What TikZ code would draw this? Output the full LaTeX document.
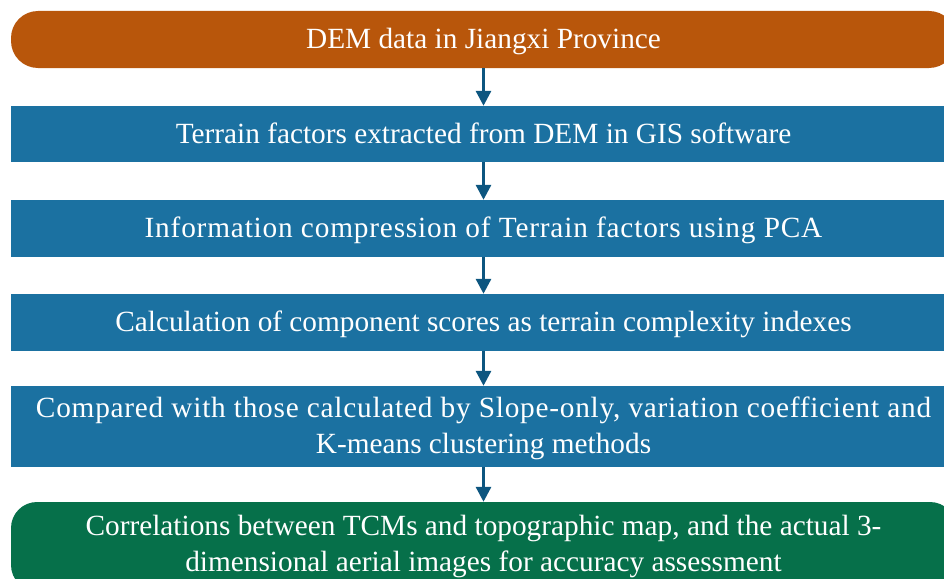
\documentclass[tikz,border=0pt]{standalone}
\usepackage{fontspec}
\setmainfont{Liberation Serif}
\usetikzlibrary{arrows.meta}
\definecolor{orangebox}{HTML}{B8560B}
\definecolor{bluebox}{HTML}{1B71A1}
\definecolor{greenbox}{HTML}{06704A}
\definecolor{arrowblue}{HTML}{0D5680}
\begin{document}
\begin{tikzpicture}[x=1pt,y=-1pt,
  box/.style={fill=bluebox, text=white, minimum width=945pt, inner sep=0pt,
    font=\fontsize{29.3}{36.7}\selectfont, align=center},
  oneline/.style={text height=20pt, text depth=1.4pt},
  arr/.style={draw=arrowblue, line width=3pt, -{Triangle[width=15pt,length=15pt]}, fill=arrowblue}]
\useasboundingbox (0,0) rectangle (944,578);
\clip (0,0) rectangle (944,578);
\node[box, oneline, fill=orangebox, rounded corners=27pt, minimum height=57pt] (n0) at (483.5,39.5) {DEM data in Jiangxi Province};
\node[box, oneline, minimum height=56pt] (n1) at (483.5,134) {Terrain factors extracted from DEM in GIS software};
\node[box, oneline, minimum height=57pt] (n2) at (483.5,228.5) {{\addfontfeatures{LetterSpace=2.8}Information compression of Terrain factors using PCA}};
\node[box, oneline, minimum height=57pt] (n3) at (483.5,322.5) {Calculation of component scores as terrain complexity indexes};
\node[box, minimum height=81pt, text height=61pt, text depth=6.4pt] (n4) at (483.5,426.5) {{\addfontfeatures{LetterSpace=2.6}Compared with those calculated by Slope-only, variation coefficient and}\\K-means clustering methods};
\node[box, fill=greenbox, rounded corners=26pt, minimum height=89pt] (n5) at (483.5,546.5) {Correlations between TCMs and topographic map, and the actual 3-\\dimensional aerial images for accuracy assessment};
\draw[arr] (n0) -- (n1);
\draw[arr] (n1) -- (n2);
\draw[arr] (n2) -- (n3);
\draw[arr] (n3) -- (n4);
\draw[arr] (n4) -- (n5);
\end{tikzpicture}
\end{document}
